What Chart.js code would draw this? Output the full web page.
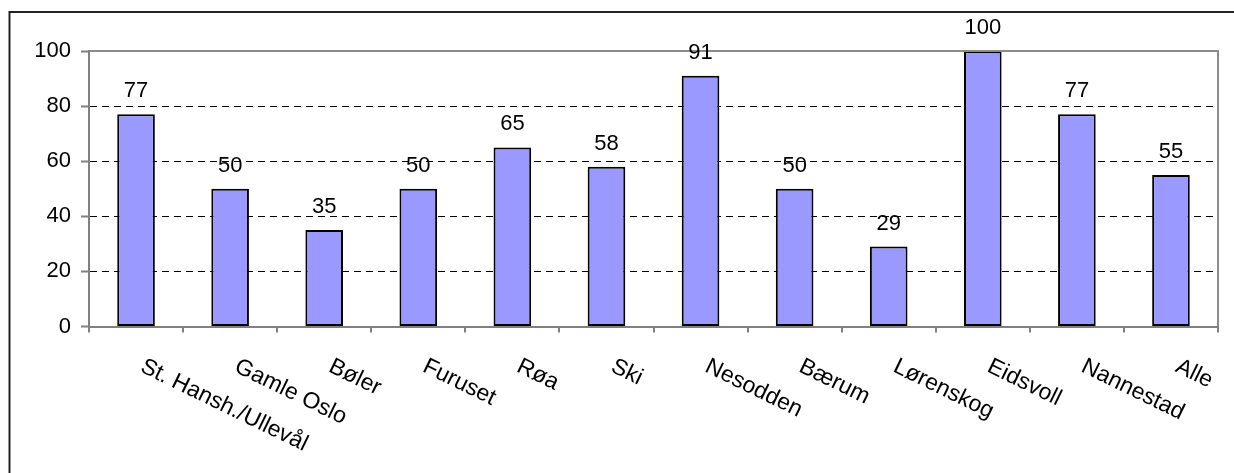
<!DOCTYPE html>
<html>
<head>
<meta charset="utf-8">
<script src="https://cdn.jsdelivr.net/npm/chart.js@4.4.1/dist/chart.umd.min.js"></script>
<style>
html,body{margin:0;padding:0;background:#fff;}
#wrap{position:relative;width:1234px;height:473px;}
</style>
</head>
<body>
<div id="wrap"><canvas id="c" width="1234" height="473"></canvas></div>
<script>
const categories = ["St. Hansh./Ullevål","Gamle Oslo","Bøler","Furuset","Røa","Ski","Nesodden","Bærum","Lørenskog","Eidsvoll","Nannestad","Alle"];
const values = [77,50,35,50,65,58,91,50,29,100,77,55];
const yTicks = [0,20,40,60,80,100];

const FONT = "'Liberation Sans', Arial, sans-serif";

const framePlugin = {
  id: 'frame',
  beforeDraw(chart) {
    const ctx = chart.ctx;
    ctx.save();
    ctx.fillStyle = '#fff';
    ctx.fillRect(0, 0, chart.width, chart.height);
    ctx.strokeStyle = '#222';
    ctx.lineWidth = 2;
    ctx.beginPath();
    ctx.moveTo(9.5, 473);
    ctx.lineTo(9.5, 12);
    ctx.lineTo(1234, 12);
    ctx.stroke();
    ctx.restore();
  },
  afterDatasetsDraw(chart) {
    const ctx = chart.ctx;
    const a = chart.chartArea;
    ctx.save();
    ctx.strokeStyle = '#8c8c8c';
    ctx.lineWidth = 2;
    ctx.beginPath();
    ctx.moveTo(a.left, a.top);
    ctx.lineTo(a.right, a.top);
    ctx.lineTo(a.right, a.bottom);
    ctx.stroke();
    const meta = chart.getDatasetMeta(0);
    ctx.fillStyle = '#000';
    ctx.font = '22px ' + FONT;
    ctx.textAlign = 'center';
    ctx.textBaseline = 'alphabetic';
    meta.data.forEach((bar, i) => {
      ctx.fillText(String(values[i]), bar.x, bar.y - 17);
    });
    const xs = chart.scales.x;
    ctx.font = '23px ' + FONT;
    ctx.textAlign = 'left';
    ctx.textBaseline = 'top';
    categories.forEach((lab, i) => {
      const px = xs.getPixelForTick(i);
      ctx.save();
      ctx.translate(px + 11, 355);
      ctx.rotate(26 * Math.PI / 180);
      ctx.fillText(lab, 0, 0);
      ctx.restore();
    });
    ctx.restore();
  }
};

new Chart(document.getElementById('c'), {
  type: 'bar',
  data: {
    labels: categories,
    datasets: [{
      data: values,
      backgroundColor: '#9999FF',
      borderColor: '#000',
      borderWidth: 2,
      borderSkipped: false,
      categoryPercentage: 1,
      barPercentage: 0.4
    }]
  },
  plugins: [framePlugin],
  options: {
    responsive: false,
    animation: false,
    layout: { padding: { left: 0, top: 51, right: 16, bottom: 0 } },
    plugins: { legend: { display: false }, tooltip: { enabled: false } },
    scales: {
      x: {
        afterFit(s) { s.height = 146.5; },
        ticks: { display: false },
        grid: { offset: true, drawOnChartArea: false, drawTicks: true, tickLength: 6, color: '#808080', lineWidth: 2 },
        border: { color: '#808080', width: 2 }
      },
      y: {
        min: 0, max: 100,
        afterFit(s) { s.width = 89; },
        afterBuildTicks(s) { s.ticks = yTicks.map(v => ({ value: v })); },
        ticks: { color: '#000', font: { family: FONT, size: 22 }, padding: 10 },
        grid: {
          drawTicks: true, tickLength: 8,
          color: (c) => (c.tick && (c.tick.value === 0 || c.tick.value === 100)) ? 'rgba(0,0,0,0)' : '#000',
          tickColor: '#808080', tickWidth: 2, lineWidth: 1
        },
        border: { color: '#808080', width: 2, dash: [7, 5] }
      }
    }
  }
});
</script>
</body>
</html>
